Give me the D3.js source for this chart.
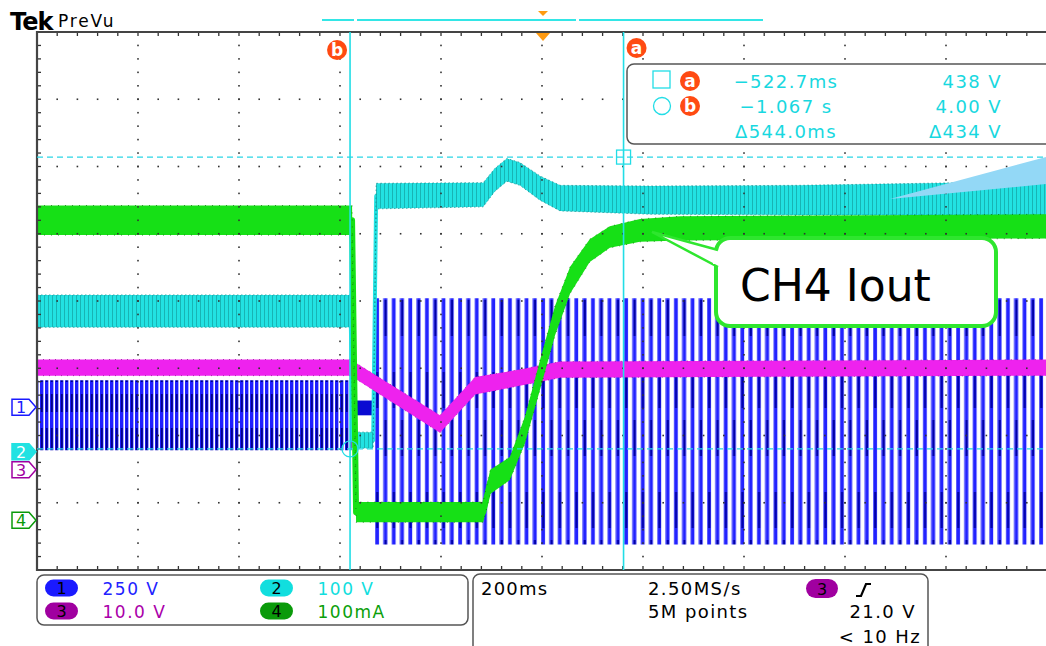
<!DOCTYPE html>
<html>
<head>
<meta charset="utf-8">
<script src="https://cdn.jsdelivr.net/npm/d3@7"></script>
<style>
  body { margin: 0; background: #fff; }
  svg text { font-family: "DejaVu Sans", sans-serif; }
</style>
</head>
<body>
<script>
// ---- data (time in ms, values in channel units) ----
var ch1Time = [-1690, -1064, -1022, 320];
var ch1Min  = [-160, -30, -510, -510];     // V
var ch1Max  = [100, 25, 405, 405];         // V

var ch2Time   = [-1690, -1066, -1061, -1021, -1015, -802, -779, -755, -729, -689, -649, -470, -172, 320];
var ch2Value  = [209, 209, 17, 17, 380, 382, 404, 419, 413, 392, 377, 374, 374, 377];   // V
var ch2Ripple = [24, 24, 12, 12, 19, 18, 17, 17, 17, 18, 19, 21, 22, 25];

var ch3Time   = [-1690, -1066, -1047, -888, -818, -729, -649, 320];
var ch3Value  = [15.2, 15.2, 14.3, 6.8, 12.5, 13.7, 14.9, 15.2];   // V
var ch3Ripple = [1.2, 1.2, 1.2, 1.3, 1.3, 1.2, 1.2, 1.2];

var ch4Time   = [-1690, -1063, -1055, -802, -788, -749, -719, -689, -659, -629, -590, -550, -490, -410, 320];
var ch4Value  = [446, 446, 12, 12, 57, 77, 134, 216, 297, 357, 401, 421, 431, 434, 437]; // mA
var ch4Ripple = [22, 22, 15, 15, 18, 17, 20, 22, 22, 20, 17, 16, 17, 18, 18];

var chPerDiv  = [250, 100, 10, 100];
var chOffset  = [-1.58, -2.24, -2.51, -3.26];   // ground marker, divisions from centre
var chLabels  = ["250 V", "100 V", "10.0 V", "100mA"];
var chNames   = ["1", "2", "3", "4"];

var cursorTime = [-522.7, -1067];   // a, b (ms)
var cursorVolt = [438, 4.00];       // a, b (ch2 volts)
var readoutTime = ["\u2212522.7ms", "\u22121.067 s", "\u0394544.0ms"];
var readoutVolt = ["438 V", "4.00 V", "\u0394434 V"];

var timebase = ["200ms", "2.50MS/s", "5M points"];
var trigger  = ["21.0 V", "< 10 Hz"];

// ---- layout ----
var w = 1046, h = 646;
var gl = 37, gr = 1047, gt = 32, gb = 570;
var colors = ["#2424ff", "#22e2e2", "#ee22ee", "#16e016"];
var edges  = ["#00008a", "#0f8f8f", "#8a0a8a", "#0a6a0a"];
var badge  = ["#1a1aff", "#11dede", "#a000a0", "#0a9a0a"];
var orange = "#ff4a12";

var svg = d3.select("body").append("svg")
  .attr("width", w).attr("height", h);

var x = d3.scaleLinear().domain([-1690, 320]).range([gl, gr]);
var xDiv = d3.scaleLinear().domain([0, 10]).range([gl, gr]);
var yDiv = d3.scaleLinear().domain([-4, 4]).range([gb, gt]);

function chY(c) {
  return function(v) { return yDiv(chOffset[c] + v / chPerDiv[c]); };
}

var defs = svg.append("defs");
defs.append("clipPath").attr("id", "plot")
  .append("rect").attr("x", gl).attr("y", gt).attr("width", gr - gl).attr("height", gb - gt);

// dense aliased AC before the event
var p1 = defs.append("pattern").attr("id", "blueDense").attr("patternUnits", "userSpaceOnUse")
  .attr("width", 5).attr("height", 70);
p1.append("rect").attr("x", 0).attr("width", 3.4).attr("height", 70).attr("fill", "#1e1eff");
p1.append("rect").attr("x", 0.9).attr("y", 8).attr("width", 1.8).attr("height", 24).attr("fill", "#00008a");
p1.append("rect").attr("x", 0.9).attr("y", 44).attr("width", 1.8).attr("height", 18).attr("fill", "#00008a");

// wide bars after the event
var p2 = defs.append("pattern").attr("id", "blueWide").attr("patternUnits", "userSpaceOnUse")
  .attr("x", 375).attr("width", 16.6).attr("height", 120);
[0, 8.3].forEach(function(o, i) {
  p2.append("rect").attr("x", o).attr("width", 4).attr("height", 120).attr("fill", "#2222ff");
  p2.append("rect").attr("x", o + 0.2).attr("width", 0.8).attr("height", 120).attr("fill", "#6a6aff");
  p2.append("rect").attr("x", o + 1.2).attr("y", i ? 60 : 12).attr("width", 2.2).attr("height", 36).attr("fill", "#0000a8");
});

var p3 = defs.append("pattern").attr("id", "cyanTex").attr("patternUnits", "userSpaceOnUse")
  .attr("width", 4).attr("height", 10);
p3.append("rect").attr("width", 4).attr("height", 10).attr("fill", colors[1]);
p3.append("rect").attr("x", 0).attr("width", 1).attr("height", 10).attr("fill", "#18b4b4");

var plot = svg.append("g").attr("clip-path", "url(#plot)");

// ---- CH1 ----
var y1 = chY(0);
var ch1Fill = ["url(#blueDense)", "#0a0ad2", "url(#blueWide)"];
var area1 = d3.area().x(function(d) { return x(d.t); })
  .y0(function(d) { return y1(d.lo); }).y1(function(d) { return y1(d.hi); });
d3.range(ch1Time.length - 1).forEach(function(i) {
  var seg = [{t: ch1Time[i], lo: ch1Min[i], hi: ch1Max[i]},
             {t: ch1Time[i + 1], lo: ch1Min[i], hi: ch1Max[i]}];
  plot.append("path").attr("d", area1(seg)).attr("fill", ch1Fill[i]);
});

// ---- banded channels ----
function band(c, times, vals, rip, fill, core, speck) {
  var yy = chY(c);
  var pts = times.map(function(t, i) { return {t: t, v: vals[i], r: rip[i]}; });
  var g = plot.append("g");
  g.append("path").datum(pts)
    .attr("d", d3.line().x(function(d) { return x(d.t); }).y(function(d) { return yy(d.v); }))
    .attr("fill", "none").attr("stroke", colors[c]).attr("stroke-width", core)
    .attr("stroke-linejoin", "round");
  g.append("path").datum(pts)
    .attr("d", d3.area().x(function(d) { return x(d.t); })
      .y0(function(d) { return yy(d.v - d.r); }).y1(function(d) { return yy(d.v + d.r); }))
    .attr("fill", fill);
  [1, -1].forEach(function(s) {
    g.append("path").datum(pts)
      .attr("d", d3.line().x(function(d) { return x(d.t); }).y(function(d) { return yy(d.v + s * d.r); }))
      .attr("fill", "none").attr("stroke", edges[c]).attr("stroke-width", 1)
      .attr("stroke-dasharray", speck).attr("opacity", 0.7);
  });
}
band(1, ch2Time, ch2Value, ch2Ripple, "url(#cyanTex)", 4, "1.5 2.5");
band(2, ch3Time, ch3Value, ch3Ripple, colors[2], 7, "1 5");
band(3, ch4Time, ch4Value, ch4Ripple, colors[3], 6, "1 6");

// ---- graticule ----
var grid = svg.append("g");
var minorY = d3.range(0, 41).map(function(k) { return -4 + k * 0.2; });
var minorX = d3.range(0, 51).map(function(k) { return k * 0.2; });
d3.range(1, 10).forEach(function(i) {
  grid.selectAll(null).data(minorY).enter().append("rect")
    .attr("x", xDiv(i) - 0.8).attr("y", function(d) { return yDiv(d) - 0.8; })
    .attr("width", 1.6).attr("height", 1.6).attr("fill", "#333");
});
d3.range(-3, 4).forEach(function(j) {
  grid.selectAll(null).data(minorX).enter().append("rect")
    .attr("x", function(d) { return xDiv(d) - 0.8; }).attr("y", yDiv(j) - 0.8)
    .attr("width", 1.6).attr("height", 1.6).attr("fill", "#333");
});
grid.selectAll(null).data(minorX).enter().append("line")
  .attr("x1", function(d) { return xDiv(d); }).attr("x2", function(d) { return xDiv(d); })
  .attr("y1", gt).attr("y2", gt + 4).attr("stroke", "#333").attr("stroke-width", 1.3);
grid.selectAll(null).data(minorX).enter().append("line")
  .attr("x1", function(d) { return xDiv(d); }).attr("x2", function(d) { return xDiv(d); })
  .attr("y1", gb).attr("y2", gb - 4).attr("stroke", "#333").attr("stroke-width", 1.3);
grid.selectAll(null).data(minorY).enter().append("line")
  .attr("x1", gl).attr("x2", gl + 4)
  .attr("y1", function(d) { return yDiv(d); }).attr("y2", function(d) { return yDiv(d); })
  .attr("stroke", "#333").attr("stroke-width", 1.3);
grid.append("path")
  .attr("d", "M" + w + "," + gt + "H" + gl + "V" + gb + "H" + w)
  .attr("fill", "none").attr("stroke", "#444").attr("stroke-width", 2.2);

// ---- cursors ----
var y2 = chY(1);
var cur = svg.append("g");
cursorVolt.forEach(function(v) {
  cur.append("line").attr("x1", gl).attr("x2", w).attr("y1", y2(v)).attr("y2", y2(v))
    .attr("stroke", "#2ad6e6").attr("stroke-width", 1.3).attr("stroke-dasharray", "6 4");
});
cursorTime.forEach(function(t) {
  cur.append("line").attr("x1", x(t)).attr("x2", x(t)).attr("y1", gt).attr("y2", gb)
    .attr("stroke", "#22dde6").attr("stroke-width", 1.6);
});
cur.append("rect").attr("x", x(cursorTime[0]) - 7).attr("y", y2(cursorVolt[0]) - 7)
  .attr("width", 14).attr("height", 14).attr("fill", "none").attr("stroke", "#22dde6").attr("stroke-width", 1.3);
cur.append("circle").attr("cx", x(cursorTime[1])).attr("cy", y2(cursorVolt[1])).attr("r", 8)
  .attr("fill", "none").attr("stroke", "#22dde6").attr("stroke-width", 1.3);

function badgeAB(g, cx, cy, letter) {
  g.append("circle").attr("cx", cx).attr("cy", cy).attr("r", 10).attr("fill", orange);
  g.append("text").attr("x", cx).attr("y", cy + 6).attr("text-anchor", "middle")
    .attr("font-size", 17).attr("font-weight", "bold").attr("fill", "#fff").text(letter);
}
badgeAB(svg, x(cursorTime[1]) - 13, 50, "b");
badgeAB(svg, x(cursorTime[0]) + 13, 48, "a");

// trigger markers + record view bar
svg.append("path").attr("d", "M536,33L550,33L543,41Z").attr("fill", "#ff9a10");
svg.append("path").attr("d", "M538,11L548,11L543,16Z").attr("fill", "#ff9a10");
[[322, 354], [357, 576], [579, 763]].forEach(function(s) {
  svg.append("line").attr("x1", s[0]).attr("x2", s[1]).attr("y1", 20).attr("y2", 20)
    .attr("stroke", "#33e6e6").attr("stroke-width", 2);
});

// ---- cursor readout ----
var ro = svg.append("g");
ro.append("rect").attr("x", 627).attr("y", 64).attr("width", 440).attr("height", 80).attr("rx", 7)
  .attr("fill", "#fff").attr("stroke", "#555").attr("stroke-width", 1.5);
ro.append("rect").attr("x", 653).attr("y", 71).attr("width", 17).attr("height", 17)
  .attr("fill", "none").attr("stroke", "#22dde6").attr("stroke-width", 1.3);
ro.append("circle").attr("cx", 662).attr("cy", 106).attr("r", 8.5)
  .attr("fill", "none").attr("stroke", "#22dde6").attr("stroke-width", 1.3);
badgeAB(ro, 690, 81, "a");
badgeAB(ro, 690, 106, "b");
var rowY = [88, 113, 138];
readoutTime.forEach(function(s, i) {
  ro.append("text").attr("x", 786).attr("y", rowY[i]).attr("text-anchor", "middle")
    .attr("font-size", 18).attr("letter-spacing", 1.4).attr("fill", "#18d8e0").text(s);
});
readoutVolt.forEach(function(s, i) {
  ro.append("text").attr("x", 1002).attr("y", rowY[i]).attr("text-anchor", "end")
    .attr("font-size", 18).attr("letter-spacing", 1.4).attr("fill", "#18d8e0").text(s);
});

// ---- callouts ----
svg.append("path").attr("d", "M890,199L1046,157L1046,184Z").attr("fill", "#93d8f6");
var co = svg.append("g");
co.append("rect").attr("x", 716).attr("y", 238).attr("width", 280).attr("height", 88).attr("rx", 14)
  .attr("fill", "#fff").attr("stroke", "#2ee62e").attr("stroke-width", 4);
co.append("path").attr("d", "M718,250L652,232L718,267").attr("fill", "#fff")
  .attr("stroke", "#2ee62e").attr("stroke-width", 2.5);
co.append("line").attr("x1", 716).attr("x2", 716).attr("y1", 253).attr("y2", 264)
  .attr("stroke", "#fff").attr("stroke-width", 6);
co.append("text").attr("x", 740).attr("y", 301).attr("font-family", "Liberation Sans, Arial, sans-serif")
  .attr("font-size", 44).attr("fill", "#000").text("CH4 Iout");

// ---- ground markers ----
var gm = svg.append("g");
[0, 1, 2, 3].forEach(function(c) {
  var yy = yDiv(chOffset[c]);
  var filled = c === 1;
  gm.append("path")
    .attr("d", "M12," + (yy - 8) + "H29L36," + yy + "L29," + (yy + 8) + "H12Z")
    .attr("fill", filled ? colors[c] : "#fff").attr("stroke", filled ? colors[c] : badge[c])
    .attr("stroke-width", 1.5);
  gm.append("text").attr("x", 21).attr("y", yy + 6).attr("text-anchor", "middle")
    .attr("font-size", 16).attr("fill", filled ? "#fff" : badge[c]).text(chNames[c]);
});

// ---- header ----
svg.append("text").attr("x", 10).attr("y", 30).attr("font-family", "Liberation Sans, Arial, sans-serif")
  .attr("font-weight", "bold").attr("font-size", 24).attr("letter-spacing", -1).text("Tek");
svg.append("text").attr("x", 58).attr("y", 27).attr("font-size", 17).attr("letter-spacing", 1.8).text("PreVu");

// ---- status bar ----
var sb = svg.append("g");
sb.append("rect").attr("x", 37).attr("y", 575).attr("width", 431).attr("height", 50).attr("rx", 7)
  .attr("fill", "#fff").attr("stroke", "#555").attr("stroke-width", 1.5);
sb.append("rect").attr("x", 473).attr("y", 574).attr("width", 455).attr("height", 90).attr("rx", 7)
  .attr("fill", "#fff").attr("stroke", "#555").attr("stroke-width", 1.5);
var bx = [61.5, 276.5, 61.5, 276.5], by = [588, 588, 611, 611];
var labelColor = ["#2222ff", "#11dede", "#aa00aa", "#0aa00a"];
[0, 1, 2, 3].forEach(function(c) {
  sb.append("rect").attr("x", bx[c] - 16.5).attr("y", by[c] - 8.5).attr("width", 33).attr("height", 17)
    .attr("rx", 8.5).attr("fill", badge[c]);
  sb.append("text").attr("x", bx[c]).attr("y", by[c] + 6).attr("text-anchor", "middle")
    .attr("font-size", 16).attr("fill", "#000").text(chNames[c]);
  sb.append("text").attr("x", bx[c] + 41).attr("y", by[c] + 7)
    .attr("font-size", 17).attr("letter-spacing", 1.5).attr("fill", labelColor[c])
    .text(chLabels[c]);
});
sb.append("text").attr("x", 481).attr("y", 595).attr("font-size", 18).attr("letter-spacing", 1.2).text(timebase[0]);
sb.append("text").attr("x", 648).attr("y", 595).attr("font-size", 18).attr("letter-spacing", 1.4).text(timebase[1]);
sb.append("text").attr("x", 648).attr("y", 618).attr("font-size", 18).attr("letter-spacing", 1.4).text(timebase[2]);
sb.append("rect").attr("x", 806).attr("y", 579).attr("width", 32).attr("height", 19).attr("rx", 9.5).attr("fill", badge[2]);
sb.append("text").attr("x", 822).attr("y", 595).attr("text-anchor", "middle").attr("font-size", 16).text("3");
sb.append("path").attr("d", "M856,596H861L866,584H871").attr("fill", "none")
  .attr("stroke", "#000").attr("stroke-width", 2.2);
sb.append("text").attr("x", 916).attr("y", 618).attr("text-anchor", "end").attr("font-size", 18).attr("letter-spacing", 1.4).text(trigger[0]);
sb.append("text").attr("x", 921).attr("y", 643).attr("text-anchor", "end").attr("font-size", 18).attr("letter-spacing", 1.4).text(trigger[1]);
</script>
</body>
</html>
